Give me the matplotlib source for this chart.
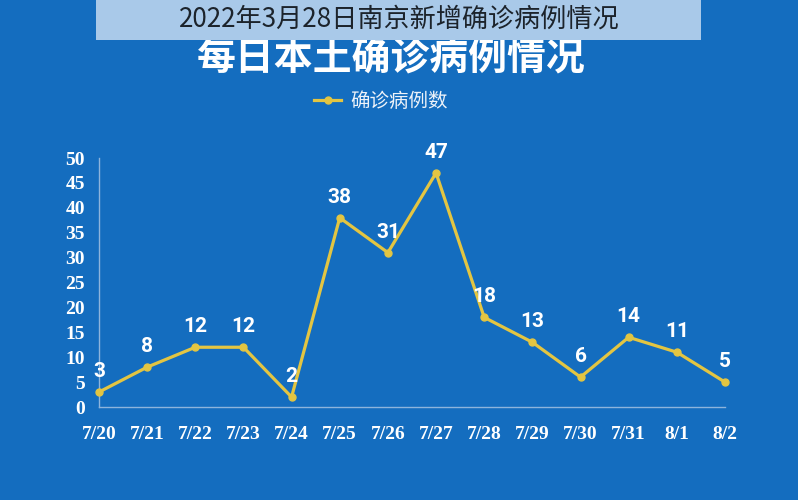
import matplotlib
matplotlib.use("Agg")
import matplotlib.pyplot as plt
from matplotlib.patches import Rectangle

# data
dates = ["7/20", "7/21", "7/22", "7/23", "7/24", "7/25", "7/26",
         "7/27", "7/28", "7/29", "7/30", "7/31", "8/1", "8/2"]
cases = [3, 8, 12, 12, 2, 38, 31, 47, 18, 13, 6, 14, 11, 5]
y_ticks = [0, 5, 10, 15, 20, 25, 30, 35, 40, 45, 50]

bg = "#146dbf"
line_col = "#e3c542"
cjk = ["Noto Sans CJK SC", "DejaVu Sans"]

fig = plt.figure(figsize=(7.98, 5.0), dpi=100, facecolor=bg)
ax = fig.add_axes([0.124, 0.186, 0.7845, 0.498])
ax.set_facecolor(bg)

x = list(range(len(dates)))
ax.plot(x, cases, color=line_col, lw=2.3, marker="o", ms=5,
        markerfacecolor=line_col, markeredgecolor=line_col,
        label="确诊病例数", clip_on=False, zorder=3)

for xi, v in zip(x, cases):
    ax.annotate(str(v), (xi, v), xytext=(0, 8), textcoords="offset points",
                ha="center", va="bottom", color="white", fontsize=15,
                fontweight="bold", family=["Roboto", "DejaVu Sans"])

ax.set_xlim(0, len(dates) - 1)
ax.set_ylim(0, 50)
ax.set_xticks(x)
ax.set_xticklabels(dates)
ax.set_yticks(y_ticks)

for s in ["top", "right"]:
    ax.spines[s].set_visible(False)
for s in ["left", "bottom"]:
    ax.spines[s].set_color("#8db4dc")
    ax.spines[s].set_linewidth(1)

ax.tick_params(length=0)
ax.tick_params(axis="x", pad=14)
ax.tick_params(axis="y", pad=10)
for lab in ax.get_xticklabels():
    lab.set_family("Liberation Serif")
    lab.set_fontweight("bold")
    lab.set_fontsize(14)
    lab.set_color("white")
for lab in ax.get_yticklabels():
    lab.set_family("Liberation Serif")
    lab.set_fontweight("bold")
    lab.set_fontsize(14)
    lab.set_color("white")

leg = fig.legend(loc="center", bbox_to_anchor=(0.477, 0.797), frameon=False,
                 handlelength=1.4, handletextpad=0.45,
                 prop={"family": cjk, "size": 14})
for t in leg.get_texts():
    t.set_color("#eef3f9")

fig.text(0.49, 0.882, "每日本土确诊病例情况", ha="center", va="center",
         color="white", fontsize=28, fontweight="heavy", family=cjk)

# semi-transparent caption bar on top
fig.patches.append(Rectangle((96 / 798, 0.92), (701 - 96) / 798, 0.08,
                             transform=fig.transFigure, facecolor="#a9c9e9",
                             edgecolor="none", zorder=5))
fig.text(0.5, 0.962, "2022年3月28日南京新增确诊病例情况", ha="center",
         va="center", color="#1c232b", fontsize=18.8, fontweight="light",
         family=cjk, zorder=6)

fig.savefig("out.png", dpi=100, facecolor=bg)
